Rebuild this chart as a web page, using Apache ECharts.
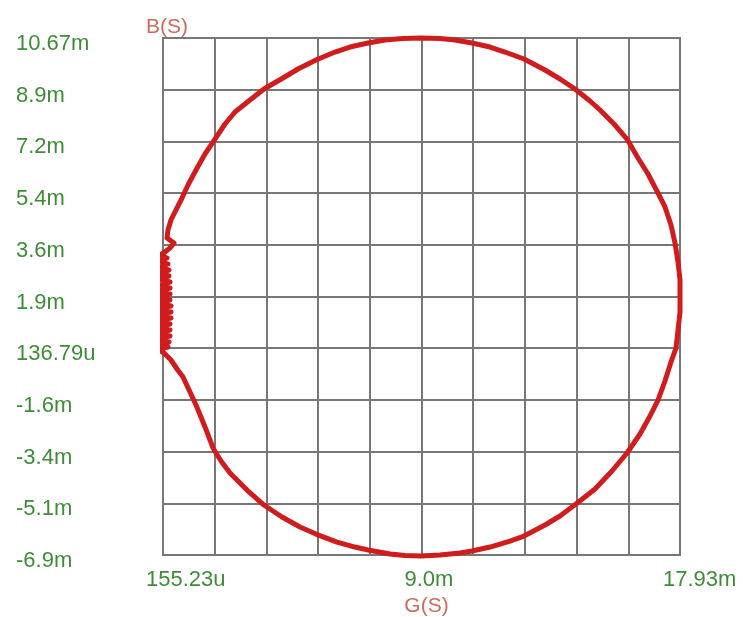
<!DOCTYPE html>
<html>
<head>
<meta charset="utf-8">
<script src="https://cdn.jsdelivr.net/npm/echarts@6/dist/echarts.min.js"></script>
<style>
    html, body { margin: 0; padding: 0; background: #fff; }
    #chart { width: 743px; height: 617px; }
</style>
</head>
<body>
<div id="chart"></div>
<script>
// axis ranges, in mS
const gRange = [0.15523, 17.93];
const bRange = [-6.9, 10.67];

// tick labels (x: left to right, y: bottom to top)
const xTickLabels = ['155.23u', '9.0m', '17.93m'];
const yTickLabels = ['-6.9m', '-5.1m', '-3.4m', '-1.6m', '136.79u', '1.9m', '3.6m', '5.4m', '7.2m', '8.9m', '10.67m'];

// measured trace: G (conductance, mS) and B (susceptance, mS)
const gValues = [
    -0.051, 0.189, 0.430, 0.636, 0.843, 1.083, 1.290, 1.461, 1.668, 1.874,
    2.149, 2.459, 3.043, 3.627, 4.246, 4.865, 5.415, 6.137, 6.756, 7.203,
    7.959, 8.475, 9.025, 9.679, 10.366, 10.779, 11.398, 12.085, 12.567, 13.289,
    13.804, 14.354, 15.008, 15.592, 16.108, 16.555, 16.899, 17.174, 17.414, 17.621,
    17.793, 17.862, 17.930, 17.930, 17.930, 17.862, 17.758, 17.621, 17.414, 17.139,
    16.830, 16.486, 16.108, 15.661, 15.180, 14.836, 14.320, 13.804, 13.289, 12.567,
    11.913, 11.398, 10.779, 10.194, 9.679, 9.025, 8.406, 7.788, 7.203, 6.584,
    6.069, 5.415, 4.796, 4.281, 3.627, 3.146, 2.630, 2.287, 1.943, 1.599,
    1.290, 1.015, 0.808, 0.602, 0.430, 0.327, 0.293, 0.533, 0.396,
    // noisy low-frequency end
    0.224, 0.052, 0.293, 0.052, 0.327, 0.052, 0.361, 0.018, 0.361, 0.018,
    0.396, 0.018, 0.396, -0.017, 0.396, -0.017, 0.396, -0.017, 0.430, -0.017,
    0.430, -0.051, 0.430, -0.051, 0.396, -0.051, 0.396, -0.051, 0.396, -0.086,
    0.361, -0.086, 0.327, -0.086
];
const bValues = [
    0.100, -0.035, -0.273, -0.579, -0.851, -1.361, -1.802, -2.210, -2.720, -3.263,
    -3.706, -4.114, -4.692, -5.202, -5.610, -5.950, -6.188, -6.460, -6.630, -6.732,
    -6.868, -6.917, -6.934, -6.900, -6.834, -6.766, -6.630, -6.426, -6.256, -5.881,
    -5.575, -5.168, -4.658, -4.046, -3.434, -2.788, -2.176, -1.633, -0.987, -0.341,
    0.134, 0.746, 1.358, 1.902, 2.446, 3.057, 3.703, 4.315, 4.927, 5.470,
    6.048, 6.592, 7.237, 7.747, 8.223, 8.529, 8.937, 9.277, 9.582, 9.956,
    10.194, 10.364, 10.500, 10.602, 10.653, 10.670, 10.653, 10.602, 10.500, 10.364,
    10.194, 9.922, 9.616, 9.311, 8.937, 8.563, 8.155, 7.747, 7.237, 6.728,
    6.184, 5.674, 5.232, 4.825, 4.485, 4.145, 3.873, 3.703, 3.533,
    // noisy low-frequency end
    3.397, 3.295, 3.193, 3.091, 2.989, 2.887, 2.785, 2.684, 2.582, 2.480,
    2.378, 2.276, 2.174, 2.072, 1.970, 1.868, 1.766, 1.664, 1.562, 1.460,
    1.358, 1.256, 1.154, 1.052, 0.950, 0.848, 0.746, 0.644, 0.542, 0.441,
    0.339, 0.237, 0.169, 0.067
];

const labelColor = '#3f8c38';
const nameColor = '#cc6b60';
const gridColor = '#777';
const fontFamily = '"Liberation Sans", Arial, sans-serif';

const xTicks = xTickLabels.map((s, i) => gRange[0] + i * (gRange[1] - gRange[0]) / (xTickLabels.length - 1));
const yTicks = yTickLabels.map((s, i) => bRange[0] + i * (bRange[1] - bRange[0]) / (yTickLabels.length - 1));

// tick value -> its label text
function pick(ticks, labels, v) {
    let best = 0;
    ticks.forEach((t, i) => {
        if (Math.abs(t - v) < Math.abs(ticks[best] - v)) best = i;
    });
    return labels[best];
}

const chart = echarts.init(document.getElementById('chart'));

chart.setOption({
    backgroundColor: '#fff',
    animation: false,
    grid: {
        left: 163,
        top: 38,
        width: 517,
        height: 517,
        outerBoundsMode: 'none',
        show: true,
        borderColor: gridColor,
        borderWidth: 2
    },
    xAxis: [
        {
            type: 'value',
            min: gRange[0],
            max: gRange[1],
            position: 'bottom',
            axisLine: { show: false },
            axisTick: { show: false },
            splitLine: { show: false },
            name: 'G(S)',
            nameLocation: 'middle',
            nameGap: 32,
            nameTextStyle: { color: nameColor, fontSize: 21, fontFamily: fontFamily, padding: [0, 0, 0, 10] },
            axisLabel: {
                customValues: xTicks,
                showMinLabel: true,
                showMaxLabel: true,
                margin: 14,
                formatter: v => '{t|' + pick(xTicks, xTickLabels, v) + '}',
                rich: {
                    t: { width: 34, align: 'left', color: labelColor, fontSize: 22, fontFamily: fontFamily }
                }
            }
        },
        {
            // 10 x 10 divisions
            type: 'value',
            min: 0,
            max: 10,
            interval: 1,
            position: 'top',
            axisLine: { show: false },
            axisTick: { show: false },
            axisLabel: { show: false },
            splitLine: { show: true, lineStyle: { color: gridColor, width: 2 } }
        }
    ],
    yAxis: [
        {
            type: 'value',
            min: bRange[0],
            max: bRange[1],
            position: 'left',
            axisLine: { show: false },
            axisTick: { show: false },
            splitLine: { show: false },
            name: 'B(S)',
            nameLocation: 'end',
            nameGap: 0,
            nameTextStyle: { color: nameColor, fontSize: 21, fontFamily: fontFamily, padding: [0, 0, 0, 8] },
            axisLabel: {
                customValues: yTicks,
                showMinLabel: true,
                showMaxLabel: true,
                align: 'left',
                verticalAlign: 'top',
                lineHeight: 12,
                margin: 147,
                color: labelColor,
                fontSize: 22,
                fontFamily: fontFamily,
                formatter: v => pick(yTicks, yTickLabels, v)
            }
        },
        {
            type: 'value',
            min: 0,
            max: 10,
            interval: 1,
            position: 'right',
            axisLine: { show: false },
            axisTick: { show: false },
            axisLabel: { show: false },
            splitLine: { show: true, lineStyle: { color: gridColor, width: 2 } }
        }
    ],
    series: [
        {
            type: 'line',
            xAxisIndex: 0,
            yAxisIndex: 0,
            data: gValues.map((g, i) => [g, bValues[i]]),
            symbol: 'none',
            clip: false,
            z: 5,
            lineStyle: { color: '#d01c1c', width: 5, join: 'round' }
        }
    ]
});
</script>
</body>
</html>
